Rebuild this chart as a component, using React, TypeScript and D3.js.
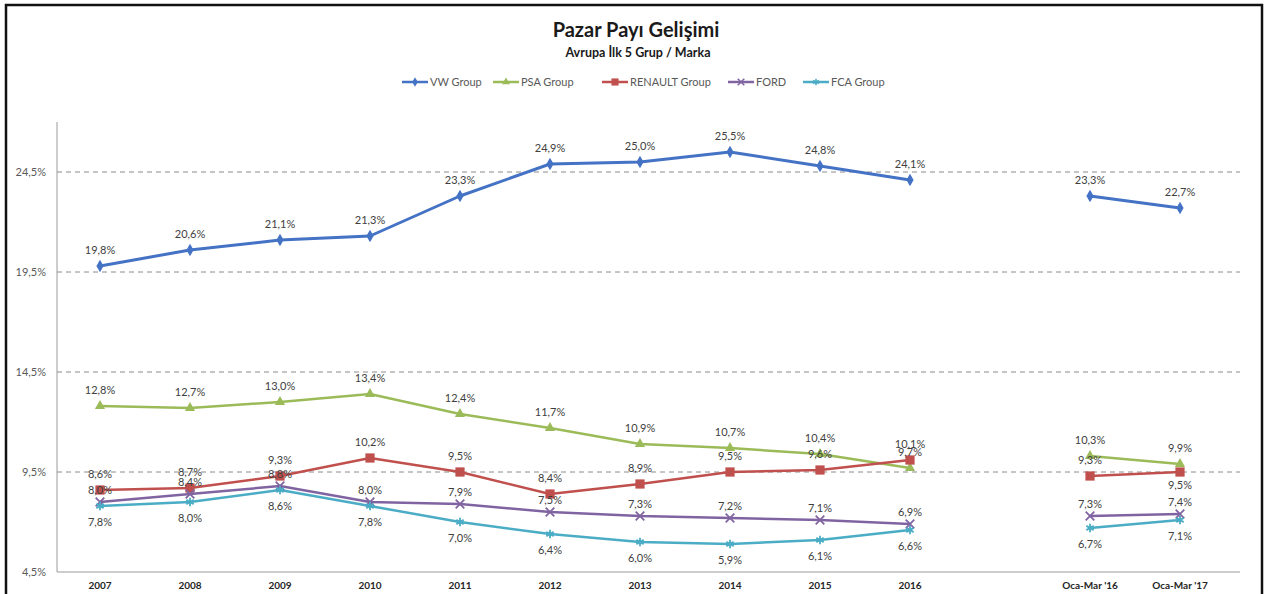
import React from 'react';
import * as d3 from 'd3';

// categories (blank one is the gap between the yearly and the quarterly points)
const categories = ['2007', '2008', '2009', '2010', '2011', '2012', '2013', '2014', '2015', '2016', '', "Oca-Mar '16", "Oca-Mar '17"];
const yTicks = [4.5, 9.5, 14.5, 19.5, 24.5];

const vwGroup = [19.8, 20.6, 21.1, 21.3, 23.3, 24.9, 25.0, 25.5, 24.8, 24.1, null, 23.3, 22.7];
const psaGroup = [12.8, 12.7, 13.0, 13.4, 12.4, 11.7, 10.9, 10.7, 10.4, 9.7, null, 10.3, 9.9];
const renaultGroup = [8.6, 8.7, 9.3, 10.2, 9.5, 8.4, 8.9, 9.5, 9.6, 10.1, null, 9.3, 9.5];
const ford = [8.0, 8.4, 8.8, 8.0, 7.9, 7.5, 7.3, 7.2, 7.1, 6.9, null, 7.3, 7.4];
const fcaGroup = [7.8, 8.0, 8.6, 7.8, 7.0, 6.4, 6.0, 5.9, 6.1, 6.6, null, 6.7, 7.1];

const series = [
  { name: 'VW Group', values: vwGroup, color: '#4472C4', symbol: d3.symbolDiamond, size: 45, stroke: false, width: 3, below: [] as number[], up: 12, down: 20 },
  { name: 'PSA Group', values: psaGroup, color: '#9BBB59', symbol: d3.symbolTriangle, size: 45, stroke: false, width: 2.5, below: [] as number[], up: 12, down: 20 },
  { name: 'RENAULT Group', values: renaultGroup, color: '#C0504D', symbol: d3.symbolSquare, size: 85, stroke: false, width: 2.5, below: [12], up: 12, down: 17 },
  { name: 'FORD', values: ford, color: '#8064A2', symbol: d3.symbolX, size: 50, stroke: true, width: 2.5, below: [] as number[], up: 8, down: 20 },
  { name: 'FCA Group', values: fcaGroup, color: '#4BACC6', symbol: d3.symbolAsterisk, size: 50, stroke: true, width: 2.5, below: categories.map((_, i) => i), up: 12, down: 20 },
];

const W = 1271;
const H = 594;
const plot = { left: 57, right: 1240, top: 122, bottom: 572 };
const legendX = [402, 493, 602, 728, 803];
const font = 'Lato, "Open Sans", sans-serif';

const fmt = (v: number) => v.toFixed(1).replace('.', ',') + '%';

export default function App() {
  const x = d3.scalePoint<string>().domain(categories.map((c, i) => i + '')).range([100, 1180]);
  const y = d3.scaleLinear().domain([4.5, 27]).range([plot.bottom, plot.top]);

  const line = d3.line<number | null>()
    .defined(d => d !== null)
    .x((_, i) => x(i + '') as number)
    .y(d => y(d as number));

  return (
    <svg width={W} height={H} style={{ position: 'absolute', left: 0, top: 0, background: '#fff' }} fontFamily={font}>
      <rect x={6} y={5} width={1256} height={H + 10} fill="#fff" stroke="#111" strokeWidth={2.5} />

      <text x={636} y={37} textAnchor="middle" fontSize={20} fontWeight="bold" fill="#1a1a1a">Pazar Payı Gelişimi</text>
      <text x={638} y={57} textAnchor="middle" fontSize={12.5} fontWeight="bold" fill="#1a1a1a">Avrupa İlk 5 Grup / Marka</text>

      {series.map((s, k) => (
        <g key={s.name} transform={`translate(${legendX[k]},82)`}>
          <line x1={0} x2={26} y1={0} y2={0} stroke={s.color} strokeWidth={2.5} />
          <path transform="translate(13,0)" d={d3.symbol(s.symbol, s.size * 0.6)() || ''}
            fill={s.stroke ? 'none' : s.color} stroke={s.stroke ? s.color : 'none'} strokeWidth={1.5} />
          <text x={28} y={4} fontSize={11} fill="#595959">{s.name}</text>
        </g>
      ))}

      {yTicks.slice(1).map(t => (
        <line key={t} x1={plot.left} x2={plot.right} y1={y(t)} y2={y(t)} stroke="#8c8c8c" strokeWidth={1} strokeDasharray="5,4" />
      ))}
      <line x1={plot.left} x2={plot.left} y1={plot.top} y2={plot.bottom} stroke="#9a9a9a" />
      <line x1={plot.left} x2={plot.right} y1={plot.bottom} y2={plot.bottom} stroke="#9a9a9a" />

      {yTicks.map(t => (
        <text key={t} x={46} y={y(t) + 4} textAnchor="end" fontSize={11} fill="#595959">{fmt(t)}</text>
      ))}
      {categories.map((c, i) => (
        <text key={i} x={x(i + '')} y={589} textAnchor="middle" fontSize={10} fontWeight="bold" fill="#262626">{c}</text>
      ))}

      {series.map(s => (
        <g key={s.name}>
          <path d={line(s.values) || ''} fill="none" stroke={s.color} strokeWidth={s.width} strokeLinejoin="round" />
          {s.values.map((v, i) => v === null ? null : (
            <path key={i} transform={`translate(${x(i + '')},${y(v)})`} d={d3.symbol(s.symbol, s.size)() || ''}
              fill={s.stroke ? 'none' : s.color} stroke={s.stroke ? s.color : 'none'} strokeWidth={1.8} />
          ))}
        </g>
      ))}

      {series.map(s => (
        <g key={s.name + 'l'}>
          {s.values.map((v, i) => v === null ? null : (
            <text key={i} x={x(i + '')} y={s.below.includes(i) ? y(v) + s.down : y(v) - s.up}
              textAnchor="middle" fontSize={11} fill="#404040">{fmt(v)}</text>
          ))}
        </g>
      ))}
    </svg>
  );
}
